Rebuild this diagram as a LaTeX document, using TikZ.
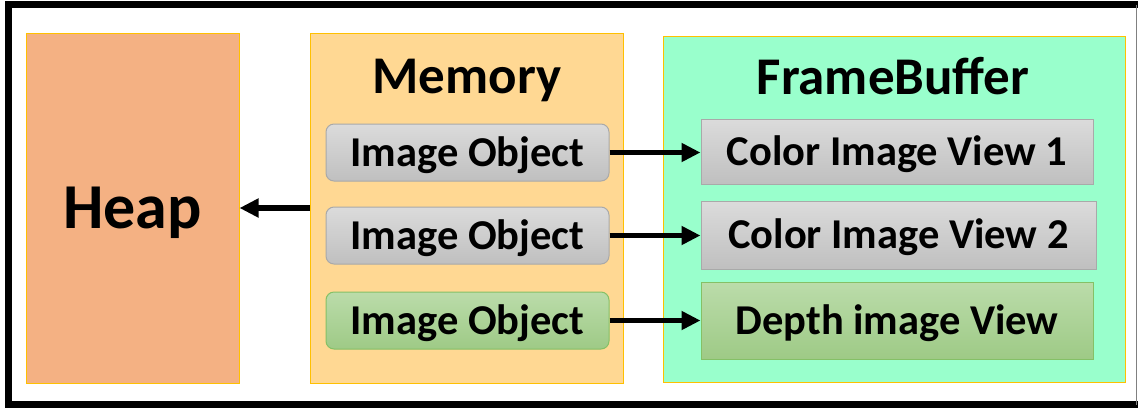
\documentclass[tikz,border=0pt]{standalone}
\usepackage{fontspec}
\setmainfont{Carlito}
\usetikzlibrary{arrows.meta}
\definecolor{heapfill}{HTML}{F4B183}
\definecolor{memfill}{HTML}{FFD893}
\definecolor{fbfill}{HTML}{99FFCC}
\definecolor{edgeyellow}{HTML}{FFC000}
\definecolor{grayedge}{HTML}{A9A9A9}
\definecolor{greenedge}{HTML}{85C066}

\begin{document}
\begin{tikzpicture}[x=1pt,y=-1pt,
  region/.style={draw=edgeyellow, line width=1pt, inner sep=0pt},
  title/.style={font=\fontsize{53}{60}\bfseries\selectfont, text height=34pt, text depth=0pt, inner sep=0pt},
  grayfill/.style={draw=grayedge, line width=1pt, top color=black!14, bottom color=black!25},
  greenfill/.style={draw=greenedge, line width=1pt, top color={rgb,255:red,187;green,220;blue,170}, bottom color={rgb,255:red,158;green,202;blue,134}},
  obj/.style={rounded corners=8pt, minimum width=283pt, minimum height=57pt, inner sep=0pt,
    font=\fontsize{42.5}{48}\bfseries\selectfont, text height=27pt, text depth=0pt},
  view/.style={minimum width=392pt, inner sep=0pt,
    font=\fontsize{42.5}{48}\bfseries\selectfont, text height=27pt, text depth=0pt},
  link/.style={-{Triangle[length=19pt,width=18pt]}, line width=5.5pt}]
\useasboundingbox (0,0) rectangle (1138,408);
% frame
\draw[line width=7pt] (1138,4.5) -- (8.5,4.5) -- (8.5,404.5) -- (1138,404.5);
\draw[gray] (1136,4.5) -- (1136,404.5);
% regions
\node[region, fill=heapfill, minimum width=213pt, minimum height=350pt,
  font=\fontsize{64}{72}\bfseries\selectfont, text height=41pt, text depth=0pt] (heap) at (132.5,208) {Heap};
\node[region, fill=memfill, minimum width=313pt, minimum height=350pt] (memory) at (466.5,208) {};
\node[region, fill=fbfill, minimum width=462pt, minimum height=346pt] (fb) at (894,209) {};
\node[title] (memtitle) at (467,76.5) {Memory};
\node[title] (fbtitle) at (893,77.5) {FrameBuffer};
% image objects
\foreach \i/\y/\s in {1/152.5/grayfill,2/235.5/grayfill,3/320.5/greenfill} {
  \node[obj, \s] (obj\i) at (467.5,\y) {Image Object};
}
% views
\node[view, grayfill, minimum height=65pt] (view1) at (897,151.5) {Color Image View 1};
\node[view, grayfill, minimum width=395pt, minimum height=68pt] (view2) at (898.5,235) {Color Image View 2};
\node[view, greenfill, minimum height=77pt] (view3) at (897,320.5) {Depth image View};
\foreach \i in {1,2,3} {
  \draw[link] (obj\i.east) -- (obj\i.east -| view\i.west);
}
\draw[link] (memory.west) -- (heap.east);
\end{tikzpicture}
\end{document}
